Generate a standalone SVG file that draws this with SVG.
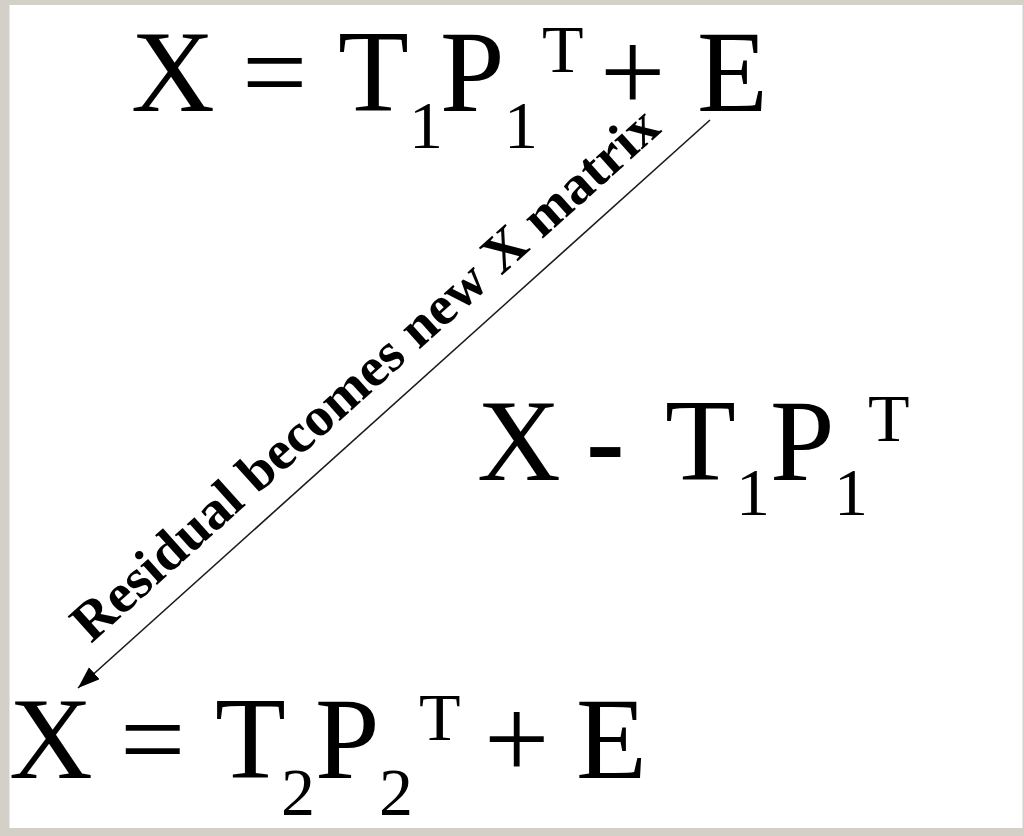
<svg xmlns="http://www.w3.org/2000/svg" width="1024" height="836" viewBox="0 0 1024 836">
  <style>
    .eq { font-family: "Liberation Serif", "Times New Roman", serif; font-size: 116px; fill: #000; }
    .small { font-size: 68px; }
    .label { font-family: "Liberation Serif", "Times New Roman", serif; font-size: 55px; font-weight: bold; fill: #000; }
    .conn { stroke: #1a1a1a; stroke-width: 1.6; fill: none; }
  </style>
  <defs>
    <marker id="arrow" markerUnits="userSpaceOnUse" markerWidth="24" markerHeight="18" refX="22" refY="8" orient="auto">
      <path d="M0,0 L22,8 L0,16 Z" fill="#000"/>
    </marker>
  </defs>
  <rect x="0" y="0" width="1024" height="836" fill="#d4d0c8"/>
  <rect x="9.5" y="5" width="1013" height="823" fill="#ffffff"/>

  <g id="eq-top">
    <text class="eq"><tspan x="131" y="111">X</tspan><tspan x="242" y="111">=</tspan><tspan x="338" y="111">T</tspan><tspan class="small" x="409" y="148">1</tspan><tspan x="440" y="111">P</tspan><tspan class="small" x="504" y="148">1</tspan><tspan class="small" x="542" y="72">T</tspan><tspan x="600" y="111">+</tspan><tspan x="697" y="111">E</tspan></text>
  </g>

  <g id="eq-middle">
    <text class="eq"><tspan x="477" y="480">X</tspan><tspan x="586" y="480" font-weight="bold">-</tspan><tspan x="665" y="480">T</tspan><tspan class="small" x="736" y="515">1</tspan><tspan x="770" y="480">P</tspan><tspan class="small" x="834" y="515">1</tspan><tspan class="small" x="868" y="441">T</tspan></text>
  </g>

  <g id="eq-bottom">
    <text class="eq"><tspan x="9" y="778">X</tspan><tspan x="120" y="778">=</tspan><tspan x="215" y="778">T</tspan><tspan class="small" x="281" y="815">2</tspan><tspan x="315" y="778">P</tspan><tspan class="small" x="379" y="815">2</tspan><tspan class="small" x="419" y="740">T</tspan><tspan x="484" y="778">+</tspan><tspan x="576" y="778">E</tspan></text>
  </g>

  <g id="connectors">
    <line class="conn" x1="710" y1="120" x2="78" y2="688" marker-end="url(#arrow)"/>
    <text class="label" transform="translate(91,644) rotate(-41.9)" x="0" y="0" textLength="768" lengthAdjust="spacingAndGlyphs">Residual becomes new X matrix</text>
  </g>
</svg>
